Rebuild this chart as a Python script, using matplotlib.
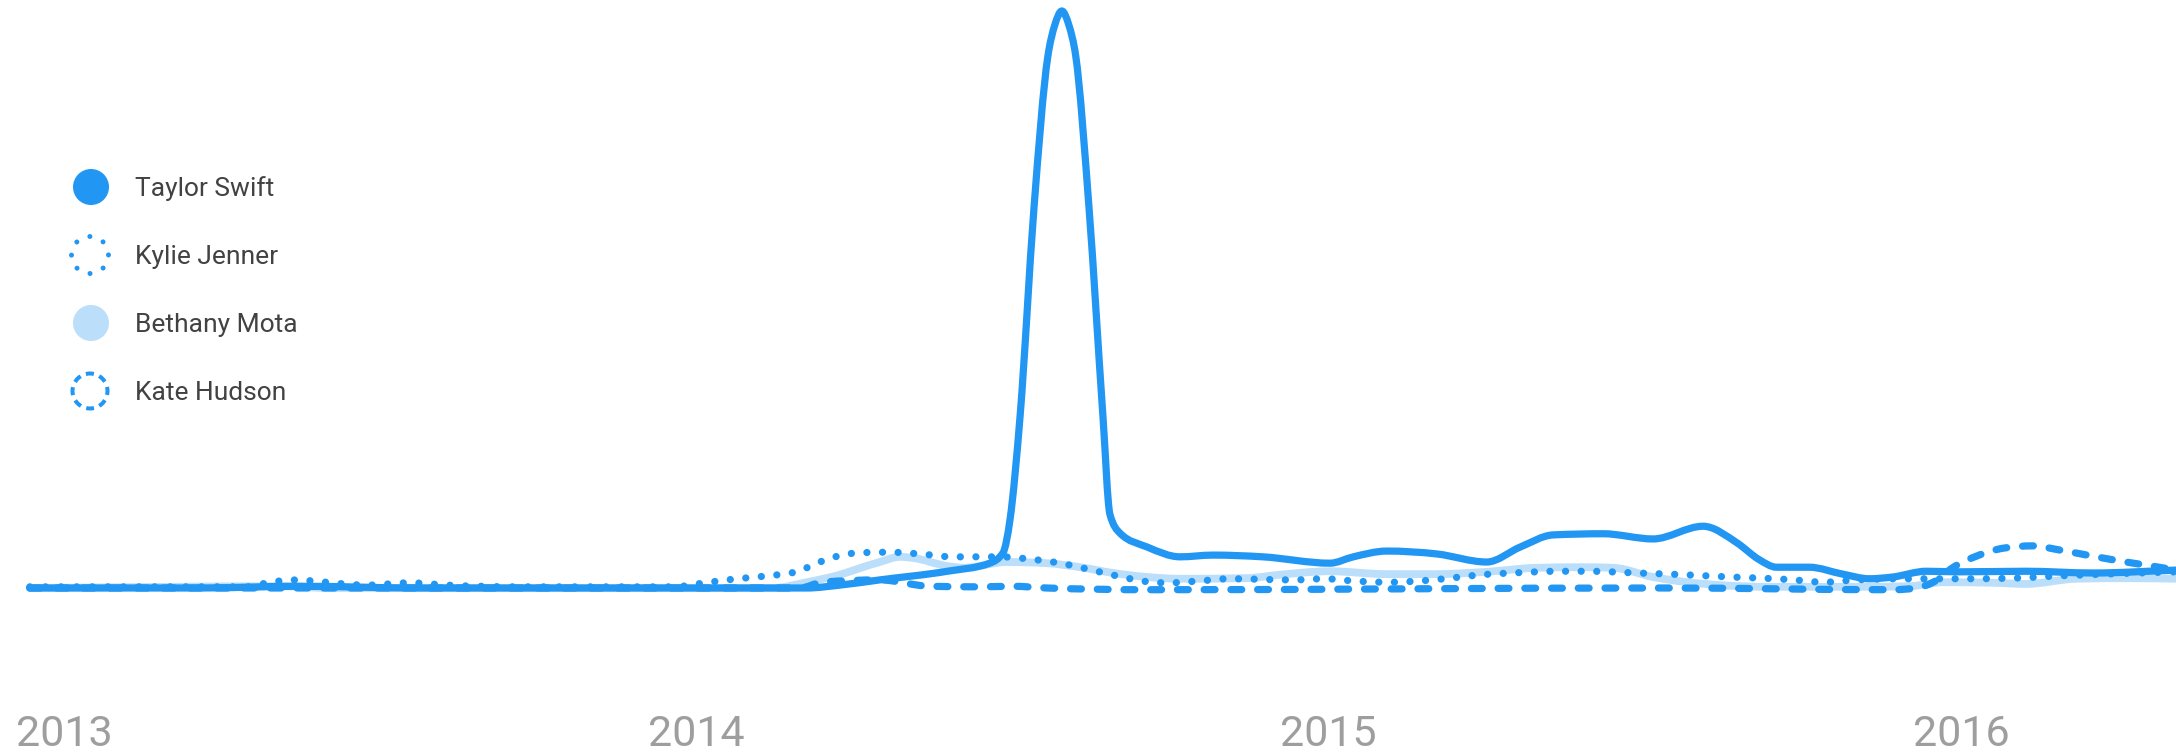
import matplotlib
matplotlib.use('Agg')
import matplotlib.pyplot as plt
import numpy as np
from matplotlib.patches import Circle, PathPatch
from matplotlib.path import Path

# search interest over time (fractional year, relative interest 0-100)
taylor_x = [2012.946, 2013.215, 2013.373, 2013.563, 2013.848, 2014.175, 2014.227, 2014.290, 2014.397,
            2014.464, 2014.485, 2014.496, 2014.512, 2014.534, 2014.556, 2014.567, 2014.578, 2014.589,
            2014.600, 2014.621, 2014.643, 2014.654, 2014.670, 2014.713, 2014.765, 2014.817, 2014.896,
            2015.002, 2015.039, 2015.092, 2015.171, 2015.250, 2015.303, 2015.355, 2015.434, 2015.513,
            2015.592, 2015.646, 2015.681, 2015.708, 2015.760, 2015.813, 2015.855, 2015.892, 2015.945,
            2015.997, 2016.103, 2016.209, 2016.340]
taylor_y = [0.0, 0.0, 0.3, 0.0, 0.0, 0.0, 0.5, 1.4, 2.9,
            4.3, 6.1, 11.8, 29.8, 65.9, 92.2, 97.6, 100.0, 97.6,
            92.2, 65.9, 29.8, 12.8, 9.5, 7.1, 5.4, 5.7, 5.4,
            4.3, 5.4, 6.4, 5.9, 4.5, 7.1, 9.2, 9.4, 8.5,
            10.7, 7.8, 4.9, 3.6, 3.6, 2.4, 1.6, 1.9, 2.9,
            2.8, 2.9, 2.6, 3.1]

kylie_x = [2012.946, 2013.294, 2013.321, 2013.370, 2013.394, 2013.479, 2013.547, 2013.606, 2013.721,
           2013.963, 2014.014, 2014.064, 2014.113, 2014.161, 2014.185, 2014.207, 2014.231, 2014.255,
           2014.304, 2014.354, 2014.405, 2014.478, 2014.528, 2014.575, 2014.626, 2014.673, 2014.721,
           2014.746, 2014.793, 2014.844, 2014.943, 2014.994, 2015.042, 2015.092, 2015.141, 2015.192,
           2015.241, 2015.290, 2015.364, 2015.412, 2015.487, 2015.562, 2015.636, 2015.686, 2015.736,
           2015.784, 2015.833, 2015.908, 2016.007, 2016.081, 2016.154, 2016.340]
kylie_y = [0.2, 0.2, 0.9, 1.4, 1.2, 0.5, 0.9, 0.5, 0.2,
           0.2, 0.9, 1.6, 2.1, 2.9, 4.0, 5.0, 5.7, 6.1,
           6.2, 5.9, 5.4, 5.4, 5.0, 4.3, 3.1, 1.9, 1.0,
           0.9, 1.2, 1.6, 1.4, 1.6, 1.2, 1.0, 1.2, 1.7,
           2.3, 2.6, 2.9, 2.9, 2.6, 2.3, 1.9, 1.7, 1.4,
           1.0, 1.4, 1.6, 1.6, 1.7, 2.1, 2.8]

bethany_x = [2012.946, 2013.347, 2013.421, 2014.121, 2014.175, 2014.227, 2014.263, 2014.290, 2014.322,
             2014.343, 2014.397, 2014.423, 2014.491, 2014.554, 2014.607, 2014.659, 2014.713, 2014.765,
             2014.870, 2014.923, 2015.002, 2015.092, 2015.171, 2015.250, 2015.329, 2015.398, 2015.450,
             2015.513, 2015.567, 2015.619, 2015.698, 2015.839, 2015.918, 2015.972, 2016.051, 2016.103,
             2016.182, 2016.261, 2016.340]
bethany_y = [0.0, 0.3, 0.0, 0.0, 1.0, 2.3, 3.6, 4.5, 5.4,
             5.2, 3.8, 3.5, 4.5, 4.3, 3.6, 2.6, 1.9, 1.6,
             1.7, 2.3, 2.9, 2.4, 2.4, 2.8, 3.5, 3.6, 3.5,
             1.9, 1.0, 0.5, 0.2, 0.2, 0.3, 1.0, 0.9, 0.7,
             1.6, 1.7, 1.6]

kate_x = [2012.946, 2014.164, 2014.199, 2014.290, 2014.369, 2014.448, 2014.500, 2014.554, 2014.713,
          2015.527, 2015.893, 2015.929, 2015.956, 2015.988, 2016.024, 2016.067, 2016.114, 2016.155,
          2016.209, 2016.261, 2016.313, 2016.340]
kate_y = [0.0, 0.0, 1.0, 1.4, 0.3, 0.2, 0.3, 0.0, -0.3,
          0.0, -0.3, 0.0, 1.0, 3.6, 5.5, 6.9, 7.3, 6.6,
          5.5, 4.5, 3.6, 3.1]

names = ['Taylor Swift', 'Kylie Jenner', 'Bethany Mota', 'Kate Hudson']
years = [2013, 2014, 2015, 2016]

blue = '#2196F3'
light = '#BBDEFB'
font = ['Roboto', 'DejaVu Sans']


def smooth_path(xs, ys):
    # monotone cubic (like d3.curveMonotoneX) drawn as bezier segments
    x = np.asarray(xs, float)
    y = np.asarray(ys, float)
    h = np.diff(x)
    s = np.diff(y) / h
    m = np.zeros_like(x)
    for k in range(1, len(x) - 1):
        p = (s[k - 1] * h[k] + s[k] * h[k - 1]) / (h[k - 1] + h[k])
        m[k] = (np.sign(s[k - 1]) + np.sign(s[k])) * min(abs(s[k - 1]), abs(s[k]), 0.5 * abs(p))
    m[0] = s[0]
    m[-1] = s[-1]
    verts = [(x[0], y[0])]
    codes = [Path.MOVETO]
    for k in range(len(x) - 1):
        d = h[k] / 3
        verts += [(x[k] + d, y[k] + m[k] * d), (x[k + 1] - d, y[k + 1] - m[k + 1] * d), (x[k + 1], y[k + 1])]
        codes += [Path.CURVE4] * 3
    return Path(verts, codes)


fig = plt.figure(figsize=(21.76, 7.54), dpi=100)
ax = fig.add_axes([0, 0, 1, 1])
ax.axis('off')
ax.set_xlim(2012.8988, 2016.340)
ax.set_ylim(-28.77, 101.9)

lw = 5.2
ax.add_patch(PathPatch(smooth_path(bethany_x, bethany_y), fill=False, edgecolor=light, lw=5.6,
                       joinstyle='round', capstyle='round'))
ax.add_patch(PathPatch(smooth_path(kate_x, kate_y), fill=False, edgecolor=blue, lw=lw,
                       linestyle=(0, (1.5, 2.2)), capstyle='round'))
ax.add_patch(PathPatch(smooth_path(kylie_x, kylie_y), fill=False, edgecolor=blue, lw=lw,
                       linestyle=(0, (0.01, 2.15)), capstyle='round'))
ax.add_patch(PathPatch(smooth_path(taylor_x, taylor_y), fill=False, edgecolor=blue, lw=lw,
                       joinstyle='round', capstyle='round'))

# year labels along the bottom
for yr in years:
    ax.text(yr, 0.0106, str(yr), transform=ax.get_xaxis_transform(), ha='center', va='baseline',
            fontsize=31, color='#9E9E9E', family=font)

# custom legend, positions in inches from bottom-left
tr = fig.dpi_scale_trans
leg_y = [7.54 - 1.87, 7.54 - 2.55, 7.54 - 3.23, 7.54 - 3.91]
fig.patches.append(Circle((0.91, leg_y[0]), 0.18, transform=tr, facecolor=blue, edgecolor='none'))
fig.patches.append(Circle((0.90, leg_y[1]), 0.185, transform=tr, facecolor='none', edgecolor=blue,
                          lw=3.6, linestyle=(0, (0.01, 2.9)), capstyle='round'))
fig.patches.append(Circle((0.91, leg_y[2]), 0.18, transform=tr, facecolor=light, edgecolor='none'))
fig.patches.append(Circle((0.90, leg_y[3]), 0.175, transform=tr, facecolor='none', edgecolor=blue,
                          lw=2.9, linestyle=(1.0, (2.0, 1.42))))
for name, y in zip(names, leg_y):
    fig.text(1.35 / 21.76, (y - 0.09) / 7.54, name, ha='left', va='baseline',
             fontsize=19, color='#424242', family=font)

fig.savefig('out.png', dpi=100, facecolor='w')
